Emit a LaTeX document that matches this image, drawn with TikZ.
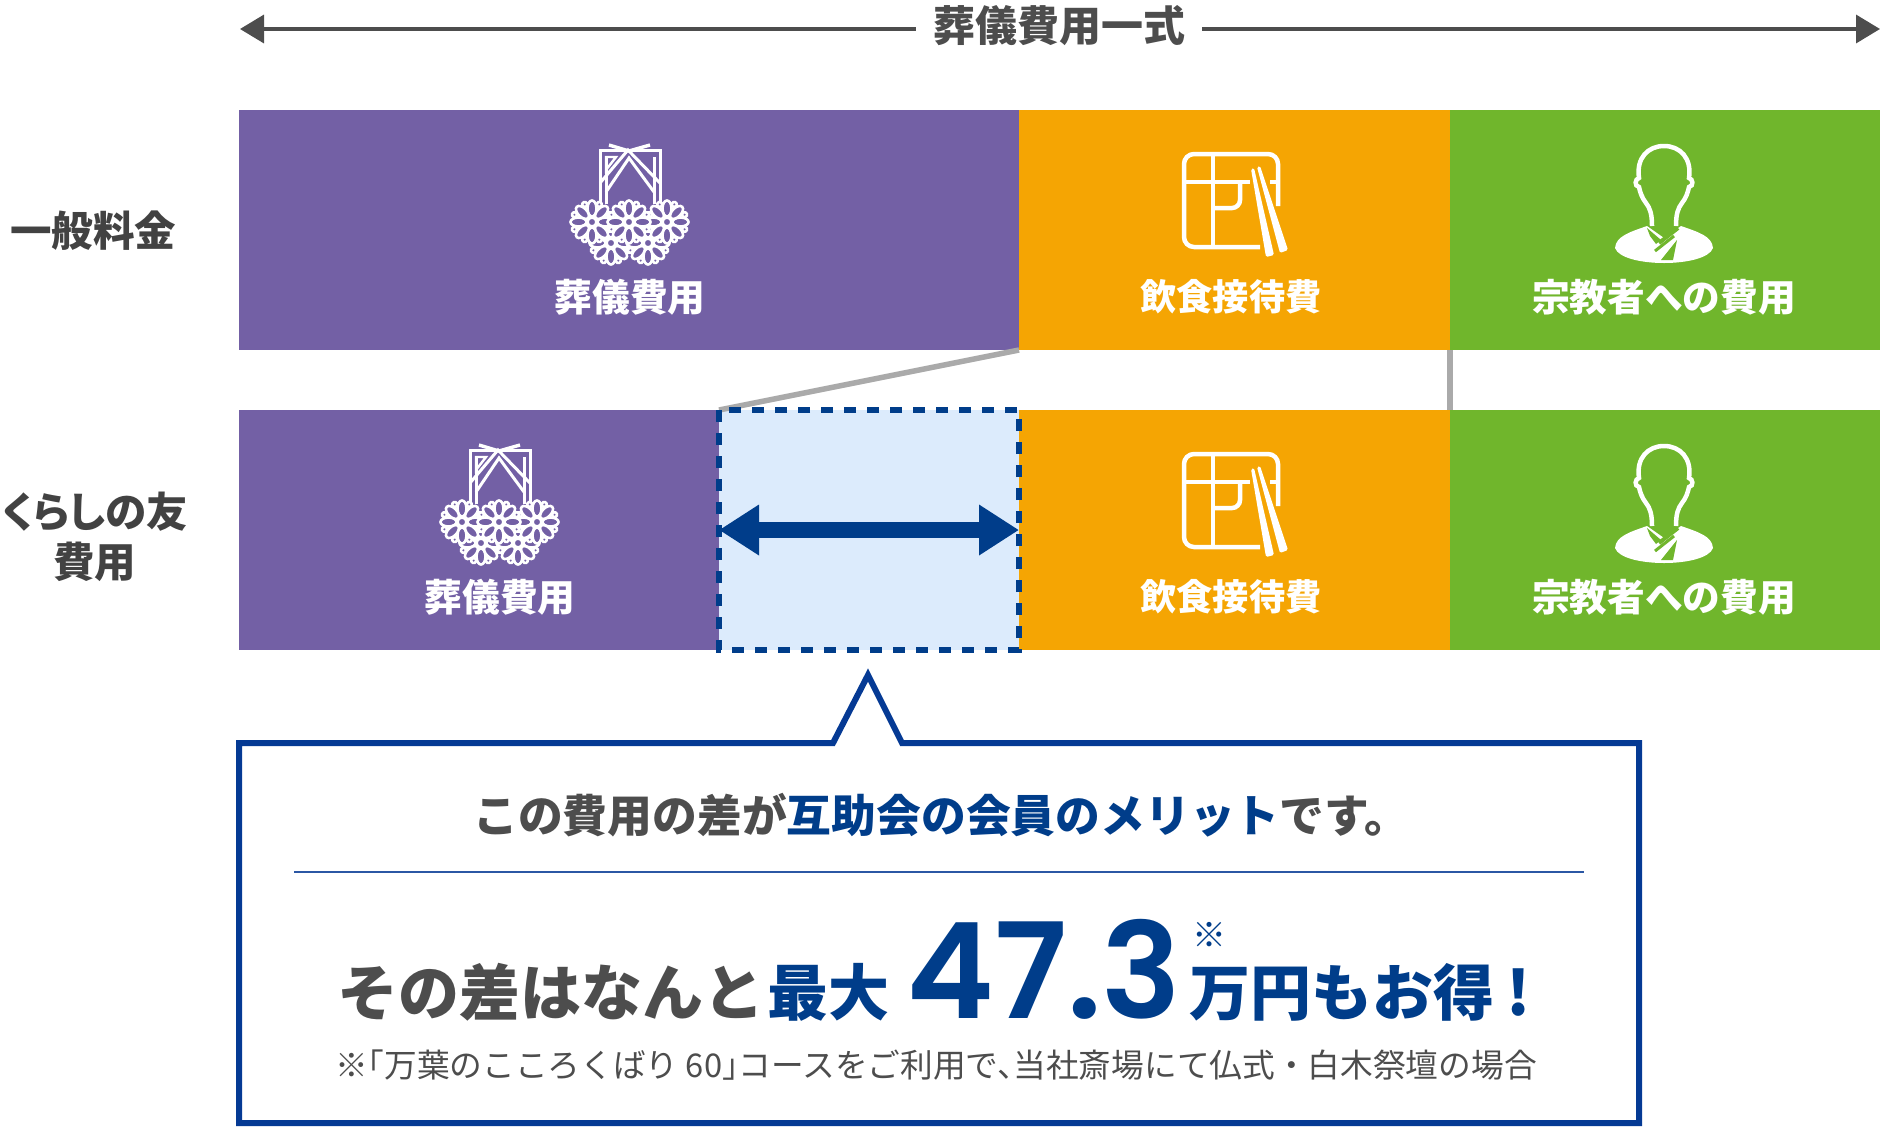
\documentclass[tikz,border=0pt]{standalone}
\usepackage{fontspec}
\usetikzlibrary{arrows.meta}
\setmainfont{Noto Sans CJK JP}
\newfontfamily\numfont{Poppins SemiBold}

\definecolor{barpurple}{HTML}{7360A5}
\definecolor{barorange}{HTML}{F5A503}
\definecolor{bargreen}{HTML}{70B62C}
\definecolor{navy}{HTML}{003D8A}
\definecolor{framenavy}{HTML}{053A94}
\definecolor{softblue}{HTML}{DCEBFC}
\definecolor{textgrey}{HTML}{4D4D4D}
\definecolor{linkgrey}{HTML}{AAAAAA}

\tikzset{
    barbox/.style={anchor=north west, minimum height=240pt, inner sep=0pt, outer sep=0pt},
    barlabel/.style={text=white, font=\bfseries\fontsize{37.7}{40}\selectfont},
    foodlabel/.style={text=white, font=\bfseries\fontsize{36.2}{40}\selectfont},
    rowlabel/.style={text=textgrey!85!black, align=center, font=\bfseries\fontsize{41.5}{50}\selectfont},
    bigtext/.style={anchor=base west, inner sep=0pt, font=\bfseries\fontsize{61}{64}\selectfont},
    linkline/.style={draw=linkgrey, line width=5.5pt},
    wreath/.pic={
        \foreach \fx/\fy in {71/123, 108/123, 52/102, 127/102, 89/102} {
            \foreach \a in {22.5, 67.5, ..., 337.5} {
                \draw[white, fill=barpurple, line width=2.6pt, rotate around={\a:(\fx, \fy)}]
                    (\fx + 19, \fy) circle (2.5);
            }
            \foreach \a in {0, 45, ..., 315} {
                \draw[white, fill=barpurple, line width=2.6pt, rotate around={\a:(\fx, \fy)}]
                    (\fx + 13.5, \fy) ellipse (8 and 4.5);
            }
            \draw[white, fill=barpurple, line width=2.6pt] (\fx, \fy) circle (4.5);
        }
        \draw[white, line width=3pt] (60, 82) -- (60, 30) -- (120, 30) -- (120, 82);
        \draw[white, line width=3pt] (66, 84) -- (66, 37);
        \draw[white, line width=3pt] (114, 84) -- (114, 37);
        \draw[white, line width=3pt] (60, 63) -- (88, 30) -- (120, 63);
        \draw[white, line width=3pt] (66, 72) -- (89, 38) -- (114, 72);
        \draw[white, line width=3.4pt] (69, 25) -- (89, 31) -- (110, 25);
        \draw[white, line width=2.4pt] (66, 50) -- (66, 37) -- (76, 37) -- cycle;
    },
    bowl/.pic={
        \draw[white, line width=4.5pt, rounded corners=10pt] (110, 117) -- (34, 117) -- (34, 24) -- (128, 24) -- (128, 76);
        \draw[white, line width=4.5pt] (63, 24) -- (63, 117);
        \draw[white, line width=4.5pt] (34, 52) -- (100, 52);
        \draw[white, line width=4.5pt] (120, 52) -- (128, 52);
        \draw[white, line width=4.5pt, rounded corners=8pt] (90, 52) -- (90, 78) -- (63, 78);
        \fill[white, rounded corners=1.5pt] (101, 39) -- (104, 38) -- (124, 125) -- (116, 127) -- cycle;
        \fill[white, rounded corners=1.5pt] (107, 37) -- (110, 36) -- (138, 120) -- (130, 123) -- cycle;
    },
    priest/.pic={
        \draw[white, line width=4.5pt] (62, 96) .. controls (62, 84) and (60, 78) .. (56, 73)
            .. controls (52, 68) and (50, 62) .. (49, 57)
            .. controls (44, 56) and (45, 49) .. (49, 48)
            .. controls (46, 28) and (58, 16) .. (74, 16)
            .. controls (90, 16) and (102, 28) .. (99, 48)
            .. controls (103, 49) and (104, 56) .. (99, 57)
            .. controls (98, 62) and (96, 68) .. (92, 73)
            .. controls (88, 78) and (86, 84) .. (86, 96);
        \fill[white] (57, 96) -- (74, 108) -- (91, 96)
            .. controls (108, 102) and (122, 106) .. (123, 118)
            .. controls (116, 138) and (32, 138) .. (25, 118)
            .. controls (26, 106) and (40, 102) .. (57, 96) -- cycle;
        \fill[bargreen] (57, 98) -- (71, 110) -- (66, 114) -- (60, 106) -- cycle;
        \draw[bargreen, line width=4pt] (88, 98) -- (69, 113);
        \draw[bargreen, line width=3pt] (84, 106) -- (65, 121);
        \fill[bargreen] (87, 110) -- (71, 130) -- (83, 130) -- cycle;
    }
}

\begin{document}
\begin{tikzpicture}[x=1pt, y=-1pt]
    \useasboundingbox (0, 0) rectangle (1880, 1128);

    % total arrow
    \node[text=textgrey, inner xsep=17pt, font=\bfseries\fontsize{42}{46}\selectfont] (total) at (1059, 26) {葬儀費用一式};
    \coordinate (totalleft) at (240, 29);
    \coordinate (totalright) at (1880, 29);
    \draw[textgrey, line width=3.5pt, -{Triangle[length=24pt, width=28pt]}] (total.west |- totalleft) -- (totalleft);
    \draw[textgrey, line width=3.5pt, -{Triangle[length=24pt, width=28pt]}] (total.east |- totalright) -- (totalright);

    % row labels
    \node[rowlabel] (rowone) at (93, 231) {一般料金};
    \node[rowlabel] (rowtwo) at (95, 537) {\addfontfeatures{RawFeature=+palt}くらしの友\\費用};

    % bars
    \node[barbox, fill=barpurple, minimum width=780pt] (funeralone) at (239, 110) {};
    \node[barbox, fill=barorange, minimum width=431pt] (foodone) at (1019, 110) {};
    \node[barbox, fill=bargreen, minimum width=431pt] (priestone) at (1450, 110) {};
    \node[barbox, fill=barpurple, minimum width=480pt] (funeraltwo) at (239, 410) {};
    \node[barbox, fill=softblue, minimum width=300pt] (saving) at (719, 410) {};
    \node[barbox, fill=barorange, minimum width=431pt] (foodtwo) at (1019, 410) {};
    \node[barbox, fill=bargreen, minimum width=431pt] (priesttwo) at (1450, 410) {};

    % links between rows
    \draw[linkline] (funeralone.south east) -- (saving.north west);
    \draw[linkline] (priestone.south west) -- (priesttwo.north west);
    \draw[navy, line width=6pt, dash pattern=on 12pt off 11pt] (saving.north west) rectangle (saving.south east);
    \draw[navy, line width=16pt, {Triangle[length=40pt, width=48pt]}-{Triangle[length=40pt, width=48pt]}] (saving.west) -- (saving.east);

    % icons
    \pic at (540, 120) {wreath};
    \pic at (410, 420) {wreath};
    \pic at (1150, 130) {bowl};
    \pic at (1150, 430) {bowl};
    \pic at (1590, 130) {priest};
    \pic at (1590, 430) {priest};

    % bar labels
    \node[barlabel] (funeralonetext) at (630, 297) {葬儀費用};
    \node[foodlabel] (foodonetext) at (1231, 297) {飲食接待費};
    \node[barlabel] (priestonetext) at (1664, 297) {宗教者への費用};
    \node[barlabel] (funeraltwotext) at (500, 597) {葬儀費用};
    \node[foodlabel] (foodtwotext) at (1231, 597) {飲食接待費};
    \node[barlabel] (priesttwotext) at (1664, 597) {宗教者への費用};

    % callout
    \draw[framenavy, line width=6pt] (239, 743) -- (833, 743) -- (868, 675) -- (902, 743) -- (1639, 743) -- (1639, 1123) -- (239, 1123) -- cycle;
    \node[anchor=west, inner sep=0pt, font=\bfseries\fontsize{44.8}{48}\selectfont, text=textgrey] (headline) at (473, 815) {この費用の差が\textcolor{navy}{互助会の会員のメリット}です。};
    \coordinate (ruleleft) at (294, 872);
    \coordinate (ruleright) at (1584, 872);
    \draw[framenavy!85, line width=1.5pt] (ruleleft) -- (ruleright);

    \node[bigtext, text=textgrey] (sono) at (337, 1015) {その差はなんと};
    \node[bigtext, text=navy] (saidai) at (767, 1015) {最大};
    \node[anchor=base west, inner sep=0pt, text=navy, font=\numfont\fontsize{133}{140}\selectfont] (amount) at (906, 1018) {47.3};
    \node[text=navy, font=\fontsize{34}{36}\selectfont] (mark) at (1209, 935) {※};
    \node[bigtext, text=navy] (man) at (1189, 1015) {万円もお得\hspace{.2em}!};
    \node[text=textgrey, font=\fontsize{32.7}{36}\selectfont] (note) at (936, 1065) {※\hspace{-.5em}「万葉のこころくばり 60」\hspace{-.5em}コースをご利用で、\hspace{-.5em}当社斎場にて仏式・白木祭壇の場合};
\end{tikzpicture}
\end{document}
